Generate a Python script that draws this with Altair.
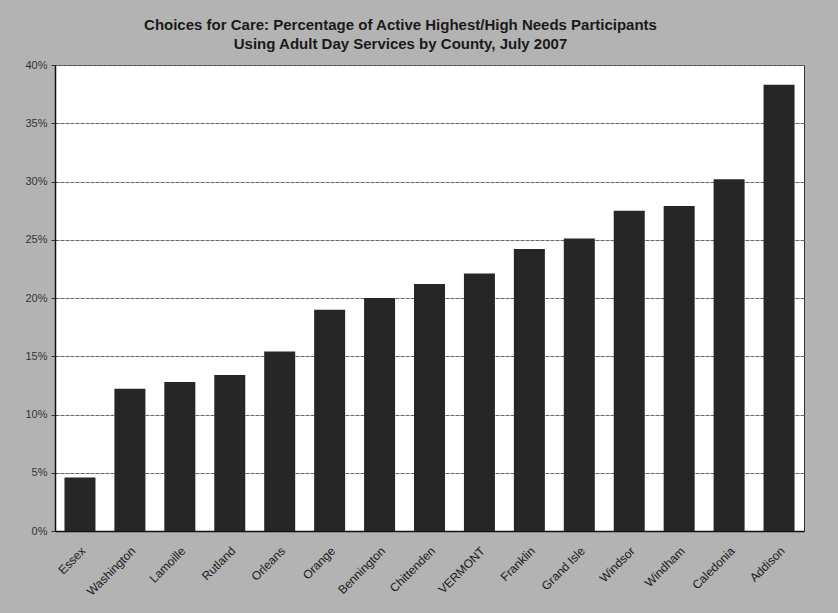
import altair as alt
import pandas as pd

# Share of active Highest/High Needs participants using Adult Day Services, July 2007
counties = [
    "Essex", "Washington", "Lamoille", "Rutland", "Orleans", "Orange",
    "Bennington", "Chittenden", "VERMONT", "Franklin", "Grand Isle",
    "Windsor", "Windham", "Caledonia", "Addison",
]
pct_adult_day = [
    0.046, 0.122, 0.128, 0.134, 0.154, 0.190,
    0.200, 0.212, 0.221, 0.242, 0.251,
    0.275, 0.279, 0.302, 0.383,
]

df = pd.DataFrame({"County": counties, "Share": pct_adult_day})

FONT = "Liberation Sans"

chart = (
    alt.Chart(df)
    .mark_bar(color="#262626", size=31)
    .encode(
        x=alt.X(
            "County:N",
            sort=counties,
            title=None,
            axis=alt.Axis(
                labelAngle=-45,
                labelFontSize=12,
                labelColor="#1a1a1a",
                labelPadding=14,
                ticks=False,
                domainColor="#111111",
                domainWidth=1.5,
            ),
        ),
        y=alt.Y(
            "Share:Q",
            title=None,
            scale=alt.Scale(domain=[0, 0.40], nice=False),
            axis=alt.Axis(
                format=".0%",
                values=[i / 100 for i in range(0, 41, 5)],
                labelFontSize=11,
                labelColor="#333333",
                labelPadding=4,
                tickSize=4,
                tickColor="#333333",
                domainColor="#111111",
                domainWidth=1.5,
                grid=True,
                gridColor="#666666",
                gridWidth=1,
                gridDash=[4, 1],
            ),
        ),
    )
    .properties(
        width=749,
        height=466,
        padding={"left": 55, "top": 65, "right": 34, "bottom": 82},
        autosize=alt.AutoSizeParams(type="none"),
        title=alt.TitleParams(
            text=[
                "Choices for Care:  Percentage of Active Highest/High Needs Participants",
                "Using Adult Day Services by County, July 2007",
            ],
            font=FONT,
            fontSize=15,
            fontWeight="bold",
            color="#1a1a1a",
            lineHeight=19,
            anchor="middle",
            dx=-29,
            offset=7,
        ),
    )
    .configure(background="#b3b3b3", font=FONT)
    .configure_view(fill="white", stroke="#333333", strokeWidth=1)
)

chart.save("out.html", embed_options={"renderer": "svg", "actions": False})
